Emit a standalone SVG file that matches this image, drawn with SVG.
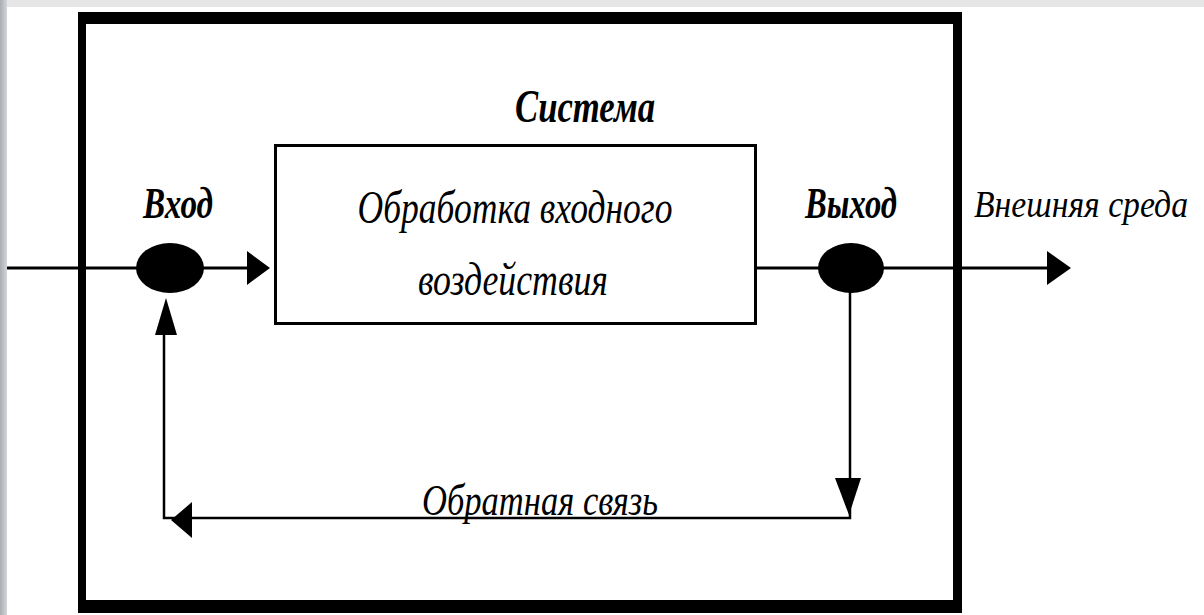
<svg xmlns="http://www.w3.org/2000/svg" width="1204" height="615" viewBox="0 0 1204 615">
  <defs>
    <linearGradient id="edge" x1="0" y1="0" x2="1" y2="0">
      <stop offset="0" stop-color="#a9adb2"/>
      <stop offset="1" stop-color="#d4d7da"/>
    </linearGradient>
  </defs>
  <style>
    .line { stroke: #000; fill: none; stroke-width: 3; }
    .thin { stroke: #000; fill: none; stroke-width: 2.5; }
    .head { fill: #000; stroke: none; }
    .node { fill: #000; stroke: none; }
    .lbl { font-family: "Liberation Serif", "DejaVu Serif", serif; font-style: italic; fill: #000; }
    .bold { font-weight: bold; }
  </style>

  <!-- page background -->
  <rect x="0" y="0" width="1204" height="615" fill="#ffffff"/>
  <rect x="0" y="0" width="1204" height="7" fill="#e6e6e6"/>
  <rect x="0" y="0" width="7" height="615" fill="url(#edge)"/>

  <!-- system boundary (heavy frame) -->
  <g id="system">
    <path d="M78 12 H962 V613 H78 Z M86 24 V600 H953 V24 Z" fill="#000" fill-rule="evenodd"/>
    <text class="lbl bold" x="585" y="122" font-size="46" text-anchor="middle" textLength="140" lengthAdjust="spacingAndGlyphs">Система</text>
  </g>

  <!-- connectors -->
  <g id="connectors">
    <line class="line" x1="7" y1="268" x2="250" y2="268"/>
    <polygon class="head" points="247,251 270,268 247,285"/>

    <line class="line" x1="757" y1="268" x2="1050" y2="268"/>
    <polygon class="head" points="1047,251 1071,268 1047,285"/>

    <polyline class="thin" points="850,268 850,518 164,518 164,335"/>
    <polygon class="head" points="835,478 861,478 849,515"/>
    <polygon class="head" points="171,520 192,502 192,538"/>
    <polygon class="head" points="166,298 155,335 177,335"/>
  </g>

  <!-- processing block -->
  <g id="process">
    <rect x="275.5" y="145.5" width="480" height="178" fill="#fff" stroke="#000" stroke-width="3"/>
    <text class="lbl" x="515" y="223" font-size="46" text-anchor="middle" textLength="315" lengthAdjust="spacingAndGlyphs">Обработка входного</text>
    <text class="lbl" x="513" y="295" font-size="46" text-anchor="middle" textLength="190" lengthAdjust="spacingAndGlyphs">воздействия</text>
  </g>

  <!-- input point -->
  <g id="input">
    <ellipse class="node" cx="170" cy="268" rx="34" ry="25"/>
    <text class="lbl bold" x="178" y="218" font-size="44" text-anchor="middle" textLength="70" lengthAdjust="spacingAndGlyphs">Вход</text>
  </g>

  <!-- output point -->
  <g id="output">
    <ellipse class="node" cx="851" cy="268" rx="33" ry="25"/>
    <text class="lbl bold" x="851" y="218" font-size="44" text-anchor="middle" textLength="92" lengthAdjust="spacingAndGlyphs">Выход</text>
  </g>

  <!-- environment -->
  <g id="environment">
    <text class="lbl" x="974" y="217" font-size="37" textLength="214" lengthAdjust="spacingAndGlyphs">Внешняя среда</text>
  </g>

  <!-- feedback label -->
  <g id="feedback">
    <text class="lbl" x="422" y="515" font-size="44" textLength="236" lengthAdjust="spacingAndGlyphs">Обратная связь</text>
  </g>
</svg>
